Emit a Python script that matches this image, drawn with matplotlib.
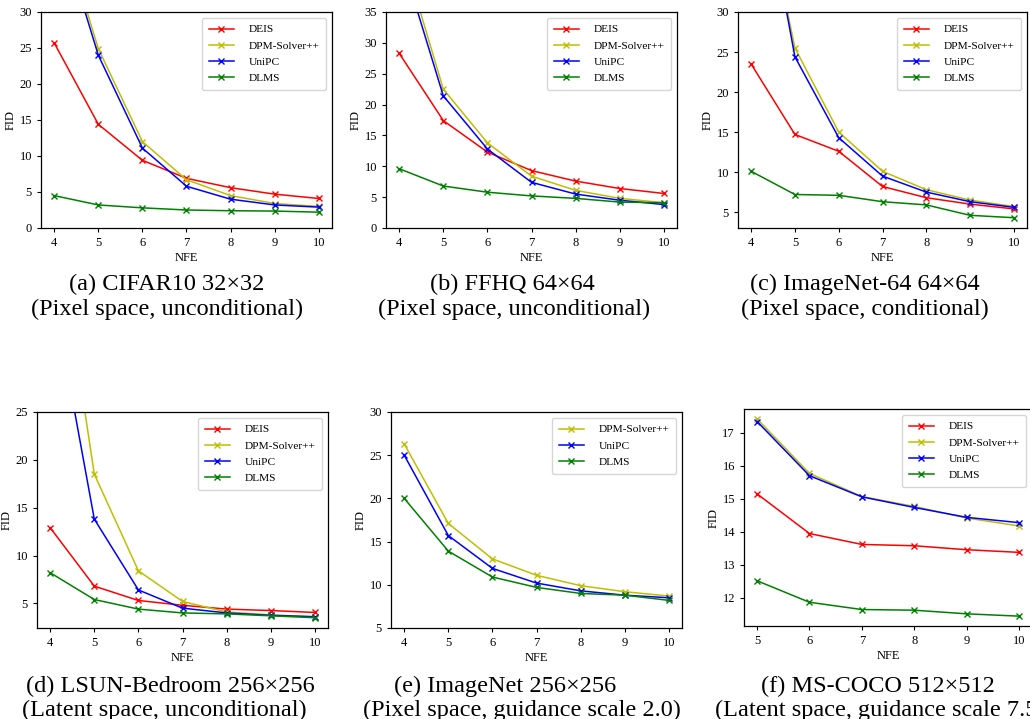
import matplotlib

matplotlib.use("Agg")
import matplotlib.pyplot as plt

plt.rcParams.update({
    "font.family": ["Liberation Serif", "DejaVu Serif"],
    "font.size": 9,
    "xtick.labelsize": 9,
    "ytick.labelsize": 9,
    "axes.labelsize": 9,
    "legend.fontsize": 8.2,
    "axes.linewidth": 0.9,
    "xtick.major.size": 3,
    "ytick.major.size": 3,
})

W, H = 1030, 719

# ---------------------------------------------------------------- data
nfe = [4, 5, 6, 7, 8, 9, 10]
nfe_coco = [5, 6, 7, 8, 9, 10]

# (a) CIFAR10
cifar_deis = [25.7, 14.4, 9.4, 6.9, 5.6, 4.7, 4.1]
cifar_dpm = [45.0, 24.9, 12.0, 6.7, 4.5, 3.4, 3.0]
cifar_unipc = [44.0, 24.0, 11.1, 5.8, 4.0, 3.2, 2.9]
cifar_dlms = [4.5, 3.2, 2.8, 2.5, 2.4, 2.35, 2.2]

# (b) FFHQ
ffhq_deis = [28.3, 17.4, 12.3, 9.3, 7.6, 6.4, 5.6]
ffhq_dpm = [46.5, 22.5, 13.8, 8.4, 6.1, 4.8, 4.1]
ffhq_unipc = [44.8, 21.4, 12.8, 7.4, 5.5, 4.5, 3.8]
ffhq_dlms = [9.6, 6.8, 5.8, 5.2, 4.8, 4.2, 4.1]

# (c) ImageNet-64
in64_deis = [23.5, 14.7, 12.6, 8.2, 6.8, 6.0, 5.4]
in64_dpm = [52.0, 25.5, 15.0, 10.1, 7.8, 6.5, 5.7]
in64_unipc = [54.0, 24.4, 14.3, 9.5, 7.5, 6.3, 5.6]
in64_dlms = [10.1, 7.2, 7.1, 6.3, 5.9, 4.6, 4.3]

# (d) LSUN-Bedroom
lsun_deis = [12.9, 6.8, 5.3, 4.8, 4.4, 4.25, 4.05]
lsun_dpm = [49.0, 18.5, 8.4, 5.2, 4.1, 3.8, 3.6]
lsun_unipc = [39.0, 13.8, 6.4, 4.5, 4.0, 3.75, 3.6]
lsun_dlms = [8.2, 5.4, 4.4, 4.0, 3.9, 3.7, 3.5]

# (e) ImageNet 256
in256_dpm = [26.3, 17.1, 13.0, 11.1, 9.9, 9.2, 8.7]
in256_unipc = [25.0, 15.7, 11.9, 10.2, 9.3, 8.8, 8.5]
in256_dlms = [20.0, 13.9, 10.9, 9.7, 9.0, 8.8, 8.2]

# (f) MS-COCO
coco_deis = [15.15, 13.95, 13.62, 13.58, 13.46, 13.38]
coco_dpm = [17.42, 15.77, 15.07, 14.77, 14.42, 14.18]
coco_unipc = [17.34, 15.70, 15.06, 14.74, 14.44, 14.28]
coco_dlms = [12.52, 11.87, 11.65, 11.63, 11.52, 11.45]

styles = {
    "DEIS": "r",
    "DPM-Solver++": "y",
    "UniPC": "b",
    "DLMS": "g",
}

panels = [
    # (pixel box l, r, top, bottom), x, series, ylim, captions
    ((41, 332, 12, 228), nfe,
     {"DEIS": cifar_deis, "DPM-Solver++": cifar_dpm, "UniPC": cifar_unipc, "DLMS": cifar_dlms},
     (0, 30), [("(a) CIFAR10 32×32", 167, 290), ("(Pixel space, unconditional)", 167, 315)]),
    ((386, 677, 12, 228), nfe,
     {"DEIS": ffhq_deis, "DPM-Solver++": ffhq_dpm, "UniPC": ffhq_unipc, "DLMS": ffhq_dlms},
     (0, 35), [("(b) FFHQ 64×64", 512, 290), ("(Pixel space, unconditional)", 514, 315)]),
    ((738, 1027, 12, 228), nfe,
     {"DEIS": in64_deis, "DPM-Solver++": in64_dpm, "UniPC": in64_unipc, "DLMS": in64_dlms},
     (None, 30), [("(c) ImageNet-64 64×64", 865, 290), ("(Pixel space, conditional)", 865, 315)]),
    ((37, 328, 412, 628), nfe,
     {"DEIS": lsun_deis, "DPM-Solver++": lsun_dpm, "UniPC": lsun_unipc, "DLMS": lsun_dlms},
     (None, 25), [("(d) LSUN-Bedroom 256×256", 170, 692), ("(Latent space, unconditional)", 164, 716)]),
    ((391, 682, 412, 628), nfe,
     {"DPM-Solver++": in256_dpm, "UniPC": in256_unipc, "DLMS": in256_dlms},
     (5, 30), [("(e) ImageNet 256×256", 505, 692), ("(Pixel space, guidance scale 2.0)", 522, 716)]),
    ((744, 1032, 409, 626), nfe_coco,
     {"DEIS": coco_deis, "DPM-Solver++": coco_dpm, "UniPC": coco_unipc, "DLMS": coco_dlms},
     (None, None), [("(f) MS-COCO 512×512", 878, 692), ("(Latent space, guidance scale 7.5)", None, 716)]),
]

fig = plt.figure(figsize=(W / 100, H / 100), dpi=100)

for (l, r, t, b), xs, series, ylim, caps in panels:
    ax = fig.add_axes([l / W, 1 - b / H, (r - l) / W, (b - t) / H])
    for name, vals in series.items():
        ax.plot(xs, vals, color=styles[name], marker="x", ms=5, lw=1.1, label=name)
    lo, hi = ax.get_ylim()
    if ylim[0] is not None:
        lo = ylim[0]
    if ylim[1] is not None:
        hi = ylim[1]
        if ylim[0] is None:
            # bottom margin taken from the visible range only
            vmin = min(min(v) for v in series.values())
            lo = vmin - 0.05 * (hi - vmin)
    ax.set_ylim(lo, hi)
    ax.set_xticks(xs)
    ax.set_xlabel("NFE", labelpad=2)
    ax.set_ylabel("FID", labelpad=2)
    ax.legend(loc="upper right", borderpad=0.6, labelspacing=0.55,
              handlelength=2.2, handletextpad=1.3)
    for text, cx, cy in caps:
        if cx is None:
            # the original crop cuts this line at the right edge
            fig.text(715 / W, 1 - cy / H, text, ha="left", va="baseline", fontsize=17.5)
        else:
            fig.text(cx / W, 1 - cy / H, text, ha="center", va="baseline", fontsize=17.5)

fig.savefig("out.png", dpi=100)
